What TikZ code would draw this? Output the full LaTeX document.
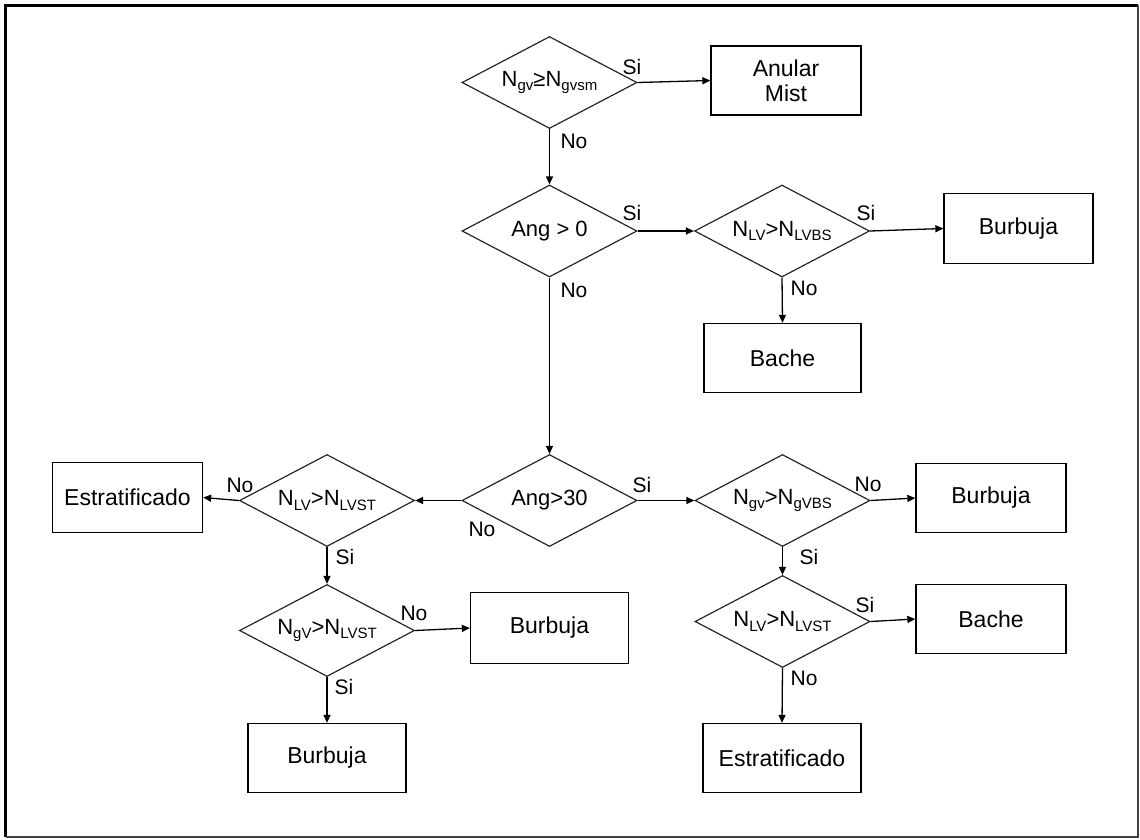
\documentclass[tikz,border=0pt]{standalone}
\usepackage{fontspec}
\setmainfont{Liberation Sans}
\usetikzlibrary{shapes.geometric,arrows.meta}
\newcommand{\lsub}[1]{\raisebox{-0.35ex}{\fontsize{15}{15}\selectfont #1}}
\tikzset{
  decision/.style={draw=black!85, line width=1.2pt, shape=diamond, aspect=1.9,
    minimum width=175pt, minimum height=92pt, inner sep=0pt,
    font=\fontsize{22}{25}\selectfont},
  outcome/.style={draw=black, line width=1.3pt, rectangle, minimum width=150pt,
    minimum height=69pt, inner sep=2pt, align=center,
    font=\fontsize{23}{25}\selectfont},
  branch/.style={inner sep=0pt, font=\fontsize{21}{22}\selectfont},
  flow/.style={draw=black, line width=1.3pt, -{Triangle[length=8pt,width=7pt]}}
}
\begin{document}
\begin{tikzpicture}[x=1pt,y=-1pt]
\useasboundingbox (0,0) rectangle (1140,839);
\draw[line width=3pt,black] (5.5,837) -- (5.5,5) -- (1138,5);
\draw[line width=2pt,black!75] (1138,5) -- (1138,837) -- (5.5,837);

% decisions
\node[decision] (d1) at (549.5,82.5) {N\lsub{gv}≥N\lsub{gvsm}};
\node[decision] (d2) at (549.5,231) {Ang > 0};
\node[decision] (d3) at (782,231) {N\lsub{LV}>N\lsub{LVBS}};
\node[decision] (d4) at (549.5,500.5) {Ang>30};
\node[decision] (dL1) at (327,500.5) {N\lsub{LV}>N\lsub{LVST}};
\node[decision] (dR1) at (782.5,500.5) {N\lsub{gv}>N\lsub{gVBS}};
\node[decision] (dL2) at (327,630.5) {N\lsub{gV}>N\lsub{LVST}};
\node[decision] (dR2) at (782.5,621.5) {N\lsub{LV}>N\lsub{LVST}};

% outcomes
\node[outcome] (anular) at (786,80.5) {Anular\\Mist};
\node[outcome, minimum width=149pt, minimum height=70pt] (burb1) at (1018.5,228.5) {Burbuja};
\node[outcome, minimum width=157pt] (bache1) at (782.5,358) {Bache};
\node[outcome, minimum height=70pt] (estrL) at (127.5,497.5) {Estratificado};
\node[outcome] (burbR) at (991,498) {Burbuja};
\node[outcome, minimum width=158pt, minimum height=71pt] (burbL2) at (549.5,628) {Burbuja};
\node[outcome, minimum width=158pt] (burbL3) at (327,758) {Burbuja};
\node[outcome] (bacheR) at (991,619) {Bache};
\node[outcome, minimum width=158pt] (estrR) at (782,758) {Estratificado};

% connectors
\draw[flow] (d1.east) -- (anular.west);
\draw[flow] (d1.south) -- (d2.north);
\draw[flow] (d2.east) -- (d3.west);
\draw[flow] (d3.east) -- (burb1.west);
\draw[flow] (d3.south) -- (bache1.north);
\draw[flow] (d2.south) -- (d4.north);
\draw[flow] (d4.west) -- (dL1.east);
\draw[flow] (dL1.west) -- (estrL.east);
\draw[flow] (dL1.south) -- (dL2.north);
\draw[flow] (dL2.east) -- (burbL2.west);
\draw[flow] (dL2.south) -- (burbL3.north);
\draw[flow] (d4.east) -- (dR1.west);
\draw[flow] (dR1.east) -- (burbR.west);
\draw[flow] (dR1.south) -- (dR2.north);
\draw[flow] (dR2.east) -- (bacheR.west);
\draw[flow] (dR2.south) -- (estrR.north);

% branch labels
\node[branch] (l1s) at (632,67) {Si};
\node[branch] (l1n) at (574,141) {No};
\node[branch] (l2s) at (632,213) {Si};
\node[branch] (l2n) at (574,290) {No};
\node[branch] (l3s) at (866,213) {Si};
\node[branch] (l3n) at (804,288) {No};
\node[branch] (l4s) at (642,485) {Si};
\node[branch] (l4n) at (482,529) {No};
\node[branch] (lL1n) at (240,485) {No};
\node[branch] (lL1s) at (345,557) {Si};
\node[branch] (lR1n) at (868,484) {No};
\node[branch] (lR1s) at (809,557) {Si};
\node[branch] (lL2n) at (414,613) {No};
\node[branch] (lL2s) at (344,687) {Si};
\node[branch] (lR2s) at (865,605) {Si};
\node[branch] (lR2n) at (804,678) {No};
\end{tikzpicture}
\end{document}
